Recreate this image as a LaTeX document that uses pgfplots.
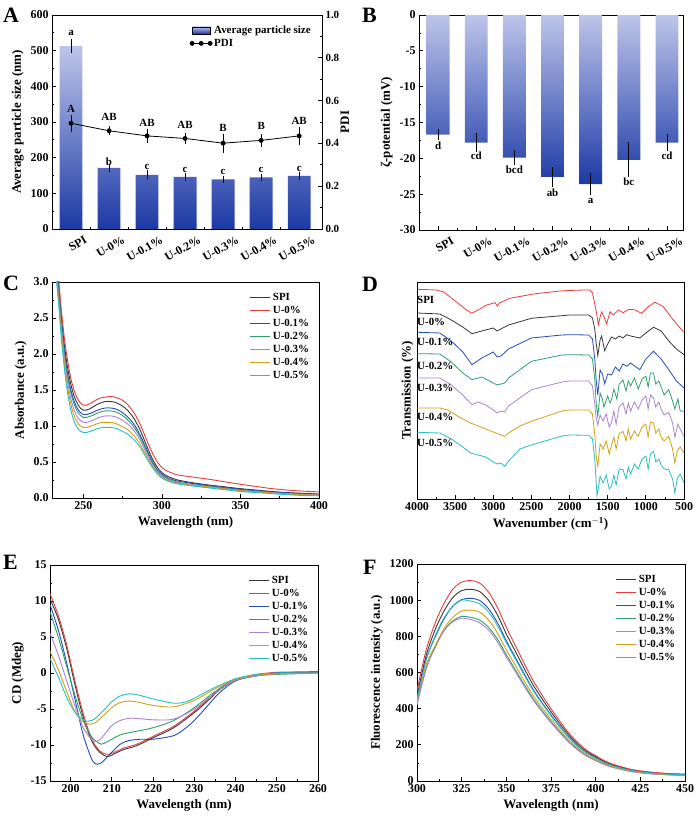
\documentclass[border=0pt]{standalone}
\usepackage{fontspec}
\setmainfont{Liberation Serif}
\usepackage{pgfplots}
\pgfplotsset{compat=1.18}
\definecolor{cspi}{RGB}{55,55,55}
\definecolor{cu0}{RGB}{230,60,60}
\definecolor{cu1}{RGB}{35,75,190}
\definecolor{cu2}{RGB}{45,160,105}
\definecolor{cu3}{RGB}{170,130,210}
\definecolor{cu4}{RGB}{210,160,20}
\definecolor{cu5}{RGB}{40,190,195}
\definecolor{barlight}{RGB}{190,197,234}
\definecolor{bardark}{RGB}{28,58,165}
\pgfplotsset{
 panel/.style={
  scale only axis,
  axis line style={line width=0.9bp},
  tick style={line width=0.8bp, black},
  tick align=inside,
  xtick pos=left, ytick pos=left,
  major tick length=4bp, minor tick length=2.2bp,
  tick label style={font=\fontsize{12}{12}\selectfont\bfseries},
  label style={font=\fontsize{13}{13}\selectfont\bfseries},
  /pgf/number format/assume math mode=true,
  /pgf/number format/1000 sep={},
  legend style={draw=none, fill=none, font=\fontsize{11}{12}\selectfont\bfseries, at={(0.975,0.965)}, anchor=north east, inner sep=1bp, row sep=0.3bp},
  legend cell align=left,
  legend image code/.code={\draw[##1] (0bp,0bp)--(20bp,0bp);},
 },
 cat/.style={
  xmin=-0.5, xtick={0,...,6}, minor xtick={0.5,1.5,...,5.5},
  xticklabels={SPI,U-0\%,U-0.1\%,U-0.2\%,U-0.3\%,U-0.4\%,U-0.5\%},
  xticklabel style={xshift=14bp, yshift=-1.5bp, rotate=30, anchor=north east},
 },
 ln/.style={line width=0.9bp, smooth},
 pdileg/.style={legend image code/.code={\draw[##1] plot coordinates {(0bp,0bp) (9bp,0bp) (18bp,0bp)};}},
 barleg/.style={legend image code/.code={\fill[top color=barlight, bottom color=bardark] (0bp,-3.5bp) rectangle (18bp,3.5bp);}},
}
\newcommand{\lt}{\fontsize{11}{11}\selectfont\bfseries}
\begin{document}
\bfseries
\begin{tikzpicture}[x=1bp,y=1bp]
\path[use as bounding box] (0,0) rectangle (698,823);

% ---------------- A ----------------
\pgfplotstableread{
x size err pdi pdierr
0 513 12 0.494 0.025
1 171 3 0.459 0.006
2 152 4 0.435 0.020
3 146 2 0.423 0.010
4 139 2 0.401 0.030
5 145 2 0.414 0.015
6 149 2 0.435 0.027
}\tabA
\begin{axis}[panel, cat, at={(52bp,594bp)}, anchor=south west, width=270bp, height=214bp,
  xmax=6.6, ymin=0, ymax=600, ytick={0,100,...,600}, minor y tick num=1,
  ylabel={Average particle size (nm)}]
\addplot[ybar, bar width=0.6, bar shift=0pt, draw=none, top color=barlight, bottom color=bardark] table[x=x,y=size]{\tabA};
\addplot[only marks, mark size=0pt, forget plot, error bars/.cd, y dir=both, y explicit,
  error bar style={black, line width=0.8bp}, error mark options={black, mark size=3bp, line width=0.8bp}]
  table[x=x,y=size,y error=err]{\tabA};
\node[font=\lt] at (axis cs:0,549) {a};
\node[font=\lt] at (axis cs:1,188) {b};
\node[font=\lt] at (axis cs:2,174) {c};
\node[font=\lt] at (axis cs:3,165) {c};
\node[font=\lt] at (axis cs:4,160) {c};
\node[font=\lt] at (axis cs:5,165) {c};
\node[font=\lt] at (axis cs:6,168) {c};
\end{axis}
\begin{axis}[panel, at={(52bp,594bp)}, anchor=south west, width=270bp, height=214bp,
  xmin=-0.5, xmax=6.6, ymin=0, ymax=1, ytick={0,0.2,...,1.0}, minor y tick num=1,
  axis y line*=right, axis x line=none, ytick pos=right, clip=false,
  yticklabel style={font=\fontsize{11}{11}\selectfont\bfseries, /pgf/number format/.cd, fixed, fixed zerofill, precision=1},
  legend style={at={(0.97,0.965)}, anchor=north east, font=\fontsize{11}{12}\selectfont\bfseries}]
\addlegendimage{barleg}
\addlegendentry{Average particle size}
\addplot[black, line width=0.8bp, mark=*, mark size=2bp, mark options={fill=black}, pdileg,
  error bars/.cd, y dir=both, y explicit,
  error bar style={black, line width=0.8bp}, error mark options={black, mark size=3bp, line width=0.8bp}]
  table[x=x,y=pdi,y error=pdierr]{\tabA};
\addlegendentry{PDI}
\node[font=\lt] at (axis cs:0,0.560) {A};
\node[font=\lt] at (axis cs:1,0.523) {AB};
\node[font=\lt] at (axis cs:2,0.498) {AB};
\node[font=\lt] at (axis cs:3,0.485) {AB};
\node[font=\lt] at (axis cs:4,0.471) {B};
\node[font=\lt] at (axis cs:5,0.482) {B};
\node[font=\lt] at (axis cs:6,0.505) {AB};
\node[shift={(23bp,0bp)}, rotate=90, font=\fontsize{13}{13}\selectfont\bfseries] at (rel axis cs:1,0.5) {PDI};
\end{axis}

% ---------------- B ----------------
\pgfplotstableread{
x zeta err
0 -16.7 0.35
1 -17.8 0.85
2 -19.9 0.6
3 -22.6 0.95
4 -23.6 1.1
5 -20.2 2.0
6 -17.8 0.75
}\tabB
\begin{axis}[panel, cat, at={(419bp,593bp)}, anchor=south west, width=264bp, height=215bp,
  xmax=6.42, ymin=-30, ymax=0, ytick={-30,-25,...,0}, minor y tick num=1,
  ylabel={ζ-potential (mV)}]
\addplot[ybar, bar width=0.6, bar shift=0pt, draw=none, top color=barlight, bottom color=bardark] table[x=x,y=zeta]{\tabB};
\addplot[only marks, mark size=0pt, forget plot, error bars/.cd, y dir=both, y explicit,
  error bar style={black, line width=0.8bp}, error mark options={black, mark size=3bp, line width=0.8bp}]
  table[x=x,y=zeta,y error=err]{\tabB};
\node[font=\lt] at (axis cs:0,-18.2) {d};
\node[font=\lt] at (axis cs:1,-19.7) {cd};
\node[font=\lt] at (axis cs:2,-21.6) {bcd};
\node[font=\lt] at (axis cs:3,-24.8) {ab};
\node[font=\lt] at (axis cs:4,-25.95) {a};
\node[font=\lt] at (axis cs:5,-23.3) {bc};
\node[font=\lt] at (axis cs:6,-19.6) {cd};
\end{axis}

% ---------------- C ----------------
\begin{axis}[panel, at={(52bp,325bp)}, anchor=south west, width=267bp, height=216bp,
  xmin=230, xmax=400, xtick={250,300,350,400}, minor x tick num=1,
  ymin=0, ymax=3, ytick={0,0.5,...,3.0}, minor y tick num=1,
  yticklabel style={/pgf/number format/.cd, fixed, fixed zerofill, precision=1},
  xlabel={Wavelength (nm)}, ylabel={Absorbance (a.u.)}]
\addplot[ln, cspi] coordinates {(232,3.5)(234,3.0)(236,2.5)(238,2.1)(240,1.8)(242,1.58)(244,1.42)(246,1.32)(248,1.25)(250,1.22)(252,1.22)(255,1.25)(258,1.29)(261,1.32)(264,1.34)(267,1.34)(270,1.33)(274,1.29)(278,1.22)(282,1.11)(286,0.95)(290,0.74)(294,0.54)(298,0.40)(302,0.32)(306,0.28)(310,0.25)(320,0.21)(330,0.18)(340,0.155)(350,0.13)(360,0.11)(370,0.09)(380,0.075)(390,0.065)(400,0.055)};
\addlegendentry{SPI}
\addplot[ln, cu0] coordinates {(232,3.6)(234,3.1)(236,2.6)(238,2.2)(240,1.9)(242,1.66)(244,1.5)(246,1.39)(248,1.32)(250,1.29)(252,1.29)(255,1.32)(258,1.36)(261,1.39)(264,1.40)(267,1.41)(270,1.40)(274,1.37)(278,1.30)(282,1.19)(286,1.03)(290,0.82)(294,0.62)(298,0.47)(302,0.39)(306,0.35)(310,0.32)(320,0.29)(330,0.26)(340,0.225)(350,0.19)(360,0.16)(370,0.13)(380,0.11)(390,0.095)(400,0.085)};
\addlegendentry{U-0\%}
\addplot[ln, cu1] coordinates {(232,3.4)(234,2.95)(236,2.45)(238,2.02)(240,1.72)(242,1.5)(244,1.35)(246,1.25)(248,1.19)(250,1.16)(252,1.16)(255,1.18)(258,1.21)(261,1.235)(264,1.25)(267,1.25)(270,1.24)(274,1.20)(278,1.13)(282,1.03)(286,0.88)(290,0.69)(294,0.5)(298,0.37)(302,0.30)(306,0.26)(310,0.235)(320,0.2)(330,0.17)(340,0.145)(350,0.12)(360,0.1)(370,0.085)(380,0.07)(390,0.06)(400,0.05)};
\addlegendentry{U-0.1\%}
\addplot[ln, cu2] coordinates {(232,3.35)(234,2.9)(236,2.4)(238,1.98)(240,1.68)(242,1.46)(244,1.31)(246,1.21)(248,1.15)(250,1.12)(252,1.12)(255,1.14)(258,1.17)(261,1.195)(264,1.21)(267,1.21)(270,1.20)(274,1.16)(278,1.09)(282,0.99)(286,0.85)(290,0.66)(294,0.48)(298,0.35)(302,0.28)(306,0.245)(310,0.22)(320,0.185)(330,0.16)(340,0.135)(350,0.11)(360,0.09)(370,0.075)(380,0.06)(390,0.05)(400,0.04)};
\addlegendentry{U-0.2\%}
\addplot[ln, cu3] coordinates {(232,3.3)(234,2.85)(236,2.35)(238,1.92)(240,1.6)(242,1.38)(244,1.23)(246,1.13)(248,1.08)(250,1.05)(252,1.05)(255,1.07)(258,1.10)(261,1.125)(264,1.14)(267,1.14)(270,1.13)(274,1.09)(278,1.03)(282,0.94)(286,0.81)(290,0.63)(294,0.46)(298,0.34)(302,0.27)(306,0.24)(310,0.215)(320,0.18)(330,0.155)(340,0.13)(350,0.105)(360,0.09)(370,0.075)(380,0.06)(390,0.05)(400,0.045)};
\addlegendentry{U-0.3\%}
\addplot[ln, cu4] coordinates {(232,3.25)(234,2.8)(236,2.28)(238,1.85)(240,1.52)(242,1.3)(244,1.15)(246,1.06)(248,1.0)(250,0.98)(252,0.98)(255,1.0)(258,1.025)(261,1.045)(264,1.05)(267,1.05)(270,1.04)(274,1.0)(278,0.95)(282,0.87)(286,0.75)(290,0.59)(294,0.44)(298,0.33)(302,0.26)(306,0.23)(310,0.205)(320,0.175)(330,0.15)(340,0.125)(350,0.1)(360,0.085)(370,0.07)(380,0.055)(390,0.045)(400,0.04)};
\addlegendentry{U-0.4\%}
\addplot[ln, cu5] coordinates {(232,3.2)(234,2.75)(236,2.2)(238,1.78)(240,1.45)(242,1.22)(244,1.07)(246,0.98)(248,0.93)(250,0.91)(252,0.91)(255,0.93)(258,0.955)(261,0.975)(264,0.98)(267,0.98)(270,0.97)(274,0.935)(278,0.89)(282,0.815)(286,0.71)(290,0.56)(294,0.42)(298,0.31)(302,0.25)(306,0.22)(310,0.195)(320,0.165)(330,0.14)(340,0.115)(350,0.09)(360,0.075)(370,0.06)(380,0.045)(390,0.035)(400,0.03)};
\addlegendentry{U-0.5\%}
\end{axis}

% ---------------- D ----------------
\begin{axis}[panel, at={(417bp,324bp)}, anchor=south west, width=267bp, height=217bp,
  x dir=reverse, xmin=500, xmax=4000, xtick={500,1000,...,4000}, minor x tick num=1,
  ymin=0, ymax=217, ytick=\empty,
  xlabel={Wavenumber (cm$^{\mathbf{-1}}$)}, ylabel={Transmission (\%)}]
\addplot[line width=0.8bp, cu0] coordinates {(4000,209.7)(3750,209)(3650,207)(3550,201)(3450,195)(3350,189)(3283,185.7)(3200,189)(3087,194)(2978,196.3)(2947,193)(2920,196)(2781,200.7)(2475,205)(2126,208)(2000,208.5)(1800,209)(1732,209)(1700,206)(1670,195)(1645,185.7)(1623,174)(1600,182)(1579,187)(1549,182.3)(1514,175)(1470,187.3)(1430,184)(1404,185.7)(1361,189)(1296,186.3)(1240,189)(1208,189.7)(1142,189)(1055,185.7)(968,192.3)(880,196.7)(771,192.3)(700,185)(640,179)(509,167.3)};
\addplot[line width=0.8bp, cspi] coordinates {(4000,186)(3700,185)(3550,179)(3400,172)(3280,165.3)(3150,168)(3000,171)(2950,168)(2900,170)(2800,174)(2500,180.7)(2100,183.3)(2000,184)(1750,184)(1700,181)(1670,170)(1650,155)(1630,143.3)(1600,159)(1580,163)(1540,148.3)(1500,155)(1450,162)(1400,160)(1350,163)(1300,161)(1250,164.3)(1200,163)(1080,161)(1000,166)(900,171.7)(800,168)(700,158)(600,150)(500,144.3)};
\addplot[line width=0.8bp, cu1] coordinates {(4000,166.7)(3700,166)(3550,158)(3400,147)(3280,134.3)(3150,141)(3000,147)(2950,142)(2900,143)(2800,150)(2500,161)(2100,164)(2000,164.3)(1750,164)(1700,160)(1670,140)(1650,118)(1630,104)(1600,129)(1570,125)(1540,115.3)(1500,125)(1450,124)(1400,132)(1350,128)(1300,135)(1250,132.7)(1200,136)(1080,129.3)(1000,140)(900,147.7)(800,140)(700,129.3)(600,118)(500,111)};
\addplot[line width=0.8bp, cu2] coordinates {(4000,145.3)(3700,145)(3550,137)(3400,126)(3280,119.3)(3150,122)(3000,116)(2950,114)(2900,115)(2850,116)(2800,121)(2500,137.7)(2100,144)(2000,144.3)(1750,144)(1700,140)(1670,120)(1650,95)(1630,82.7)(1600,106)(1570,100)(1550,92)(1500,103)(1470,96)(1450,99.3)(1420,110)(1380,100)(1350,115)(1300,119)(1260,108)(1230,118)(1200,113)(1150,121)(1100,110)(1050,120)(1000,122.7)(970,112)(940,126)(900,126)(870,115)(830,118)(800,112)(760,104)(700,109.3)(650,98)(620,90)(580,100)(550,88)(500,87.7)};
\addplot[line width=0.8bp, cu3] coordinates {(4000,121)(3700,121)(3550,114)(3400,104)(3280,94.3)(3200,97)(3100,94)(3000,89)(2950,86)(2900,88)(2850,87)(2800,93)(2500,109.3)(2100,117)(2000,118)(1750,118)(1700,113)(1670,95)(1650,80)(1630,74)(1600,84)(1560,78)(1520,85)(1480,72)(1450,76.7)(1420,88)(1390,75)(1350,92)(1300,96)(1260,85)(1230,96)(1200,88)(1150,97)(1100,90)(1050,99)(1000,103)(970,90)(940,104)(900,101)(870,92)(830,97)(800,90)(760,84)(700,86.7)(650,76)(620,62)(580,75)(550,70)(500,62.7)};
\addplot[line width=0.8bp, cu4] coordinates {(4000,91)(3700,91)(3600,89)(3450,82)(3300,76)(3200,73)(3000,67)(2900,64)(2850,62.7)(2800,66)(2650,73)(2500,77.7)(2100,88)(2000,89)(1750,89)(1700,85)(1670,65)(1650,42)(1630,32.7)(1600,55)(1560,50)(1520,58)(1480,45)(1450,54)(1420,62)(1390,50)(1350,65)(1300,67.7)(1260,58)(1230,70)(1200,60)(1150,68)(1100,62.7)(1050,72)(1000,75)(970,62)(940,77)(900,76)(870,66)(830,70)(800,62)(760,58)(700,62.7)(650,50)(620,36)(590,48)(550,52)(500,46)};
\addplot[line width=0.8bp, cu5] coordinates {(4000,66.7)(3700,66)(3550,60)(3400,52)(3300,46)(3200,44)(3100,42)(3000,37)(2950,35)(2900,36)(2850,32.7)(2800,38)(2650,50)(2500,54)(2100,63)(2000,64)(1750,63.7)(1700,60)(1670,40)(1650,15)(1640,3.3)(1620,12)(1600,22.7)(1560,16)(1520,24)(1480,10)(1450,12.7)(1420,24)(1390,14)(1350,30)(1300,29.3)(1260,20)(1230,32)(1200,25)(1150,35)(1100,30)(1050,40)(1000,43)(970,30)(940,45)(900,47.7)(870,37)(830,40)(800,34)(760,30)(700,29.3)(650,20)(620,6)(590,20)(550,25)(500,16)};
\node[font=\lt, anchor=west, inner sep=0pt] at (axis cs:4000,199.3) {SPI};
\node[font=\lt, anchor=west, inner sep=0pt] at (axis cs:4000,177) {U-0\%};
\node[font=\lt, anchor=west, inner sep=0pt] at (axis cs:4000,156.7) {U-0.1\%};
\node[font=\lt, anchor=west, inner sep=0pt] at (axis cs:4000,133.3) {U-0.2\%};
\node[font=\lt, anchor=west, inner sep=0pt] at (axis cs:4000,111) {U-0.3\%};
\node[font=\lt, anchor=west, inner sep=0pt] at (axis cs:4000,82) {U-0.4\%};
\node[font=\lt, anchor=west, inner sep=0pt] at (axis cs:4000,56) {U-0.5\%};
\end{axis}

% ---------------- E ----------------
\begin{axis}[panel, at={(50bp,42bp)}, anchor=south west, width=268bp, height=216bp,
  xmin=195, xmax=260, xtick={200,210,...,260}, minor x tick num=1,
  ymin=-15, ymax=15, ytick={-15,-10,...,15}, minor y tick num=1,
  xlabel={Wavelength (nm)}, ylabel={CD (Mdeg)}]
\addplot[ln, cspi] coordinates {(195,10.3)(197,7.5)(199,3.5)(201,-1.5)(203,-6)(205,-9.3)(207,-11)(209,-11.6)(211,-11.1)(213,-10.6)(216,-10.1)(220,-9)(225,-7.6)(230,-5.5)(233,-4)(236,-2.4)(240,-0.9)(245,-0.3)(250,0)(255,0.1)(260,0.1)};
\addlegendentry{SPI}
\addplot[ln, cu0] coordinates {(195,11)(197,8)(199,4)(201,-1)(203,-5.5)(205,-9)(207,-10.8)(209,-11.3)(211,-10.9)(213,-10.4)(216,-9.9)(220,-8.8)(225,-7.4)(230,-5.3)(233,-3.8)(236,-2.2)(240,-0.9)(245,-0.2)(250,0.1)(255,0.15)(260,0.2)};
\addlegendentry{U-0\%}
\addplot[ln, cu1] coordinates {(195,9.5)(197,6)(199,1.5)(201,-3.5)(203,-8.5)(205,-11.8)(206,-12.6)(207,-12.6)(208,-12.2)(210,-11)(212,-9.9)(214,-9.4)(217,-9.2)(220,-9.2)(225,-8.7)(228,-7.6)(230,-6.6)(233,-4.7)(236,-2.8)(240,-1.1)(245,-0.4)(250,0)(255,0.05)(260,0.1)};
\addlegendentry{U-0.1\%}
\addplot[ln, cu2] coordinates {(195,8.5)(197,5)(199,1)(201,-3)(203,-6.5)(205,-8.8)(207,-9.8)(208,-9.8)(210,-9.2)(212,-8.6)(215,-8.2)(220,-7.6)(225,-6.6)(230,-4.8)(235,-2.6)(240,-1)(245,-0.4)(250,-0.2)(255,-0.1)(260,0)};
\addlegendentry{U-0.2\%}
\addplot[ln, cu3] coordinates {(195,5.5)(197,2.5)(199,-1)(201,-4.5)(203,-7.5)(205,-9.2)(206,-9.5)(207,-9.3)(208,-8.7)(210,-7.3)(212,-6.6)(214,-6.3)(216,-6.3)(220,-6.5)(225,-6.4)(230,-5)(235,-2.8)(240,-1)(245,-0.4)(250,-0.1)(255,0)(260,0)};
\addlegendentry{U-0.3\%}
\addplot[ln, cu4] coordinates {(195,3)(197,0.5)(199,-2.5)(201,-5.3)(203,-6.8)(205,-7.1)(206,-6.9)(208,-5.9)(210,-4.8)(212,-4.1)(214,-3.9)(216,-4)(220,-4.5)(225,-4.7)(230,-3.8)(235,-2.2)(240,-0.9)(245,-0.3)(250,-0.1)(255,0)(260,0)};
\addlegendentry{U-0.4\%}
\addplot[ln, cu5] coordinates {(195,2)(197,-0.5)(199,-3.3)(201,-5.4)(203,-6.5)(204,-6.7)(205,-6.6)(206,-6.3)(208,-5.2)(210,-4)(212,-3.2)(214,-2.9)(216,-3)(220,-3.6)(225,-4.2)(228,-4)(230,-3.5)(235,-2)(240,-0.8)(245,-0.2)(250,0)(255,0)(260,0)};
\addlegendentry{U-0.5\%}
\end{axis}

% ---------------- F ----------------
\begin{axis}[panel, at={(417bp,42bp)}, anchor=south west, width=268bp, height=217bp,
  xmin=300, xmax=450, xtick={300,325,...,450}, minor x tick num=1,
  ymin=0, ymax=1200, ytick={0,200,...,1200}, minor y tick num=1,
  xlabel={Wavelength (nm)}, ylabel={Fluorescence intensity (a.u.)}]
\addplot[ln, cspi] coordinates {(300,470)(305,690)(310,833)(315,938)(320,1014)(325,1053)(330,1060)(335,1048)(340,1000)(345,919)(350,813)(355,718)(360,622)(365,531)(370,455)(375,383)(380,316)(385,254)(390,203)(395,163)(400,134)(405,107)(410,88)(420,61)(430,48)(440,40)(450,36)};
\addlegendentry{SPI}
\addplot[ln, cu0] coordinates {(300,500)(305,720)(310,870)(315,980)(320,1060)(325,1100)(330,1108)(335,1095)(340,1045)(345,960)(350,850)(355,750)(360,650)(365,555)(370,475)(375,400)(380,330)(385,265)(390,212)(395,170)(400,140)(405,112)(410,92)(420,64)(430,50)(440,42)(450,38)};
\addlegendentry{U-0\%}
\addplot[ln, cu1] coordinates {(300,460)(305,670)(310,793)(315,894)(320,967)(325,1003)(330,1010)(335,999)(340,953)(345,876)(350,775)(355,684)(360,593)(365,506)(370,433)(375,365)(380,301)(385,242)(390,193)(395,155)(400,128)(405,102)(410,84)(420,58)(430,46)(440,38)(450,35)};
\addlegendentry{U-0.1\%}
\addplot[ln, cu2] coordinates {(300,430)(305,620)(310,735)(315,830)(320,885)(325,910)(330,905)(335,890)(340,850)(345,785)(350,698)(355,616)(360,534)(365,456)(370,390)(375,328)(380,271)(385,218)(390,174)(395,140)(400,115)(405,92)(410,76)(420,53)(430,41)(440,35)(450,31)};
\addlegendentry{U-0.2\%}
\addplot[ln, cu3] coordinates {(300,420)(305,615)(310,740)(315,830)(320,880)(325,900)(330,893)(335,875)(340,835)(345,770)(350,685)(355,605)(360,524)(365,448)(370,383)(375,322)(380,266)(385,214)(390,171)(395,137)(400,112)(405,90)(410,74)(420,52)(430,40)(440,34)(450,30)};
\addlegendentry{U-0.3\%}
\addplot[ln, cu4] coordinates {(300,440)(305,640)(310,745)(315,840)(320,905)(325,940)(330,945)(335,934)(340,891)(345,819)(350,725)(355,640)(360,554)(365,473)(370,405)(375,341)(380,281)(385,226)(390,181)(395,145)(400,119)(405,96)(410,78)(420,55)(430,43)(440,36)(450,32)};
\addlegendentry{U-0.4\%}
\addplot[ln, cu5] coordinates {(300,450)(305,665)(310,800)(315,900)(320,965)(325,1000)(330,995)(335,980)(340,935)(345,860)(350,765)(355,675)(360,585)(365,500)(370,428)(375,360)(380,297)(385,239)(390,191)(395,153)(400,126)(405,101)(410,83)(420,58)(430,45)(440,38)(450,34)};
\addlegendentry{U-0.5\%}
\end{axis}

% panel letters
\node[anchor=north west, inner sep=0pt, font=\fontsize{22}{22}\selectfont\bfseries] at (3,815) {A};
\node[anchor=north west, inner sep=0pt, font=\fontsize{22}{22}\selectfont\bfseries] at (362,815) {B};
\node[anchor=north west, inner sep=0pt, font=\fontsize{22}{22}\selectfont\bfseries] at (3,547) {C};
\node[anchor=north west, inner sep=0pt, font=\fontsize{22}{22}\selectfont\bfseries] at (362,546) {D};
\node[anchor=north west, inner sep=0pt, font=\fontsize{22}{22}\selectfont\bfseries] at (3,268) {E};
\node[anchor=north west, inner sep=0pt, font=\fontsize{22}{22}\selectfont\bfseries] at (363,263) {F};
\end{tikzpicture}
\end{document}
